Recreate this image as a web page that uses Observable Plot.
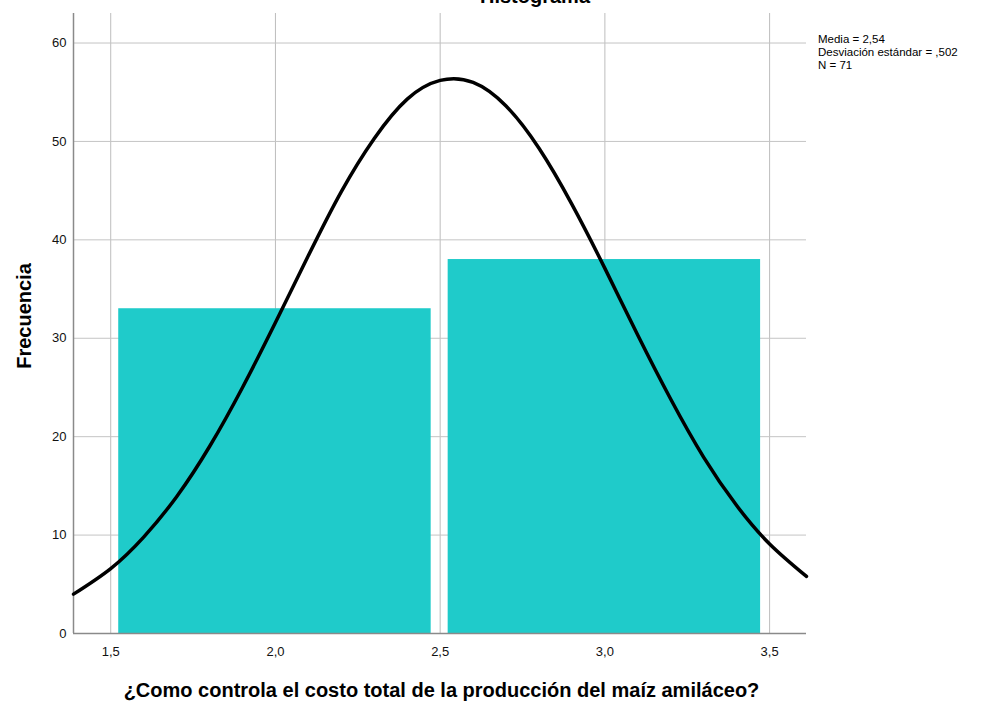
<!DOCTYPE html>
<html><head><meta charset="utf-8">
<script src="https://cdn.jsdelivr.net/npm/d3@7"></script>
<script src="https://cdn.jsdelivr.net/npm/@observablehq/plot@0.6"></script>
<style>
body{margin:0;background:#fff;}
#wrap{position:relative;width:987px;height:713px;overflow:hidden;background:#fff;}
.t{position:absolute;color:#000;white-space:nowrap;}
.b{font-family:Arial,"Liberation Sans",sans-serif;font-weight:bold;}
.n{font-family:Arial,"Liberation Sans",sans-serif;}
</style></head><body><div id="wrap"></div>
<script>
// Data
const binStart = [1.5, 2.5];
const binEnd = [2.5, 3.5];
const counts = [33, 38];
const xTicks = [1.5, 2.0, 2.5, 3.0, 3.5];
const yTicks = [0, 10, 20, 30, 40, 50, 60];
const xDomain = [1.387, 3.612];
const yDomain = [0, 63];
// Normal curve
const curveX = [1.387, 1.5, 1.6, 1.7, 1.8, 1.9, 2.0, 2.1, 2.2, 2.3, 2.4, 2.5, 2.6, 2.7, 2.8, 2.9, 3.0, 3.1, 3.2, 3.3, 3.4, 3.5, 3.612];
const curveY = [4.0, 6.6, 9.8, 13.9, 19.0, 25.0, 31.6, 38.4, 44.9, 50.3, 54.3, 56.2, 56.0, 53.6, 49.3, 43.6, 37.1, 30.3, 23.8, 17.9, 13.0, 9.1, 5.8];
const statLines = ["Media = 2,54", "Desviación estándar = ,502", "N = 71"];
const titleText = "Histograma";
const xTitle = "¿Como controla el costo total de la producción del maíz amiláceo?";
const yTitle = "Frecuencia";

const bins = binStart.map((s, i) => ({x1: s, x2: binEnd[i], count: counts[i]}));
const curve = curveX.map((x, i) => ({x, y: curveY[i]}));
const fmt = d => d.toFixed(1).replace(".", ",");

const chart = Plot.plot({
  width: 987, height: 713,
  marginLeft: 73, marginRight: 181, marginTop: 13, marginBottom: 80,
  x: {domain: xDomain, label: null},
  y: {domain: yDomain, label: null},
  style: {fontFamily: 'Arial,"Liberation Sans",sans-serif', fontSize: "13px", color: "#111", background: "white"},
  marks: [
    Plot.gridX(xTicks, {stroke: "#bdbdbd", strokeOpacity: 1}),
    Plot.gridY(yTicks.filter(d => d > 0), {stroke: "#c4c4c4", strokeOpacity: 1}),
    Plot.rectY(bins, {x1: "x1", x2: "x2", y: "count", fill: "#1fcbca", insetLeft: 8, insetRight: 9}),
    Plot.ruleY([yDomain[0]], {stroke: "#8a8a8a", strokeWidth: 1.5}),
    Plot.ruleX([xDomain[0]], {stroke: "#8a8a8a", strokeWidth: 1.5}),
    Plot.axisX(xTicks, {tickSize: 0, tickPadding: 13, tickFormat: fmt, label: null}),
    Plot.axisY(yTicks, {tickSize: 0, tickPadding: 7, label: null}),
    Plot.line(curve, {x: "x", y: "y", stroke: "black", strokeWidth: 3.5, curve: "natural"})
  ]
});
const wrap = document.getElementById("wrap");
wrap.appendChild(chart);
chart.style.position = "absolute"; chart.style.left = "0"; chart.style.top = "0";

function addText(txt, cls, css) {
  const d = document.createElement("div");
  d.className = "t " + cls;
  d.textContent = txt;
  Object.assign(d.style, css);
  wrap.appendChild(d);
  return d;
}
addText(titleText, "b", {left: "0", width: "1070px", textAlign: "center", top: "-13px", fontSize: "20px", lineHeight: "18px"});
addText(xTitle, "b", {left: "0", width: "883px", textAlign: "center", top: "678px", fontSize: "20px", lineHeight: "24px"});
const yt = addText(yTitle, "b", {left: "24px", top: "316px", fontSize: "20px", lineHeight: "22px"});
yt.style.transform = "translate(-50%,-50%) rotate(-90deg)";
const legLines = statLines.map((s, i) => addText(s, "n", {left: "818px", top: (33 + i * 13) + "px", fontSize: "11.5px", lineHeight: "13px"}));
</script></body></html>
